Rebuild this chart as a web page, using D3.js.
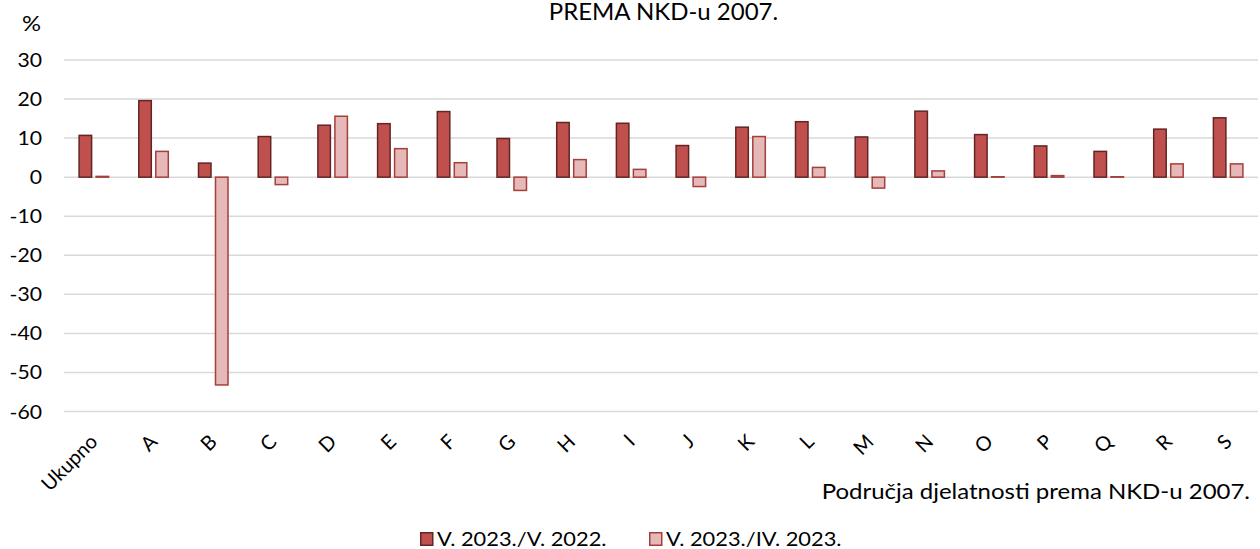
<!DOCTYPE html>
<html>
<head>
<meta charset="utf-8">
<script src="https://cdn.jsdelivr.net/npm/d3@7"></script>
<style>
  html, body { margin: 0; padding: 0; background: #fff; }
  svg { display: block; font-family: Lato, "Open Sans", sans-serif; }
</style>
</head>
<body>
<svg id="chart" width="1260" height="549"></svg>
<script>
const categories = ["Ukupno","A","B","C","D","E","F","G","H","I","J","K","L","M","N","O","P","Q","R","S"];
const seriesNames = ["V. 2023./V. 2022.", "V. 2023./IV. 2023."];
const yoy = [10.7, 19.6, 3.6, 10.4, 13.3, 13.7, 16.8, 9.9, 14.0, 13.8, 8.1, 12.8, 14.2, 10.3, 16.9, 10.9, 8.0, 6.6, 12.3, 15.2];
const mom = [0.2, 6.6, -53.2, -1.9, 15.6, 7.3, 3.7, -3.4, 4.5, 2.0, -2.4, 10.4, 2.5, -2.8, 1.6, 0.1, 0.4, 0.1, 3.4, 3.4];
const yTicks = [30, 20, 10, 0, -10, -20, -30, -40, -50, -60];
const titleText = "PREMA NKD-u 2007.";
const yUnit = "%";
const xTitle = "Područja djelatnosti prema NKD-u 2007.";

const fills = ["#C0504D", "#E6B9B8"];
const strokes = ["#632523", "#A43F3C"];

const svg = d3.select("#chart");
const plotL = 64, plotR = 1258, plotT = 60, plotB = 411.5;

const x = d3.scaleBand().domain(categories).range([plotL, plotR]).padding(0);
const bw = x.bandwidth();
const xs = d3.scaleBand().domain(seriesNames).range([bw/2 - 15.5, bw/2 + 15.5]).paddingInner(0.176);
const y = d3.scaleLinear().domain([-60, 30]).range([plotB, plotT]);

// gridlines
svg.append("g").selectAll("line").data(yTicks).join("line")
  .attr("x1", plotL).attr("x2", plotR)
  .attr("y1", d => y(d)).attr("y2", d => y(d))
  .attr("stroke", "#D9D9D9").attr("stroke-width", 1.5);

// y tick labels
svg.append("g").selectAll("text").data(yTicks).join("text")
  .attr("transform", d => `translate(42,${y(d)}) scale(1.06,1)`)
  .attr("dy", "0.35em")
  .attr("text-anchor", "end").attr("font-size", 20).attr("fill", "#000")
  .text(d => d);

// % label
svg.append("text").attr("transform", "translate(41,31) scale(1.08,1)").attr("text-anchor", "end")
  .attr("font-size", 22).text(yUnit);

// title
svg.append("text").attr("x", 663.5).attr("y", 20).attr("text-anchor", "middle")
  .attr("font-size", 24).text(titleText);

// bars
const data = categories.map((c, i) => ({c, vals: [yoy[i], mom[i]]}));
const groups = svg.append("g").selectAll("g").data(data).join("g")
  .attr("transform", d => `translate(${x(d.c)},0)`);
groups.selectAll("rect").data(d => d.vals.map((v, k) => ({v, k}))).join("rect")
  .attr("x", d => xs(seriesNames[d.k]) + 0.75)
  .attr("width", xs.bandwidth() - 1.5)
  .attr("y", d => Math.min(y(d.v), y(0)))
  .attr("height", d => Math.abs(y(d.v) - y(0)))
  .attr("fill", d => fills[d.k])
  .attr("stroke", d => strokes[d.k])
  .attr("stroke-width", 1.5);

// x labels
svg.append("g").selectAll("text").data(categories).join("text")
  .attr("transform", d => `translate(${x(d) + bw/2 + 5},443) rotate(-45)`)
  .attr("text-anchor", "end").attr("font-size", 20).text(d => d);

// x axis title
svg.append("text").attr("transform", "translate(1250,499) scale(1.09,1)").attr("text-anchor", "end")
  .attr("font-size", 22).text(xTitle);

// legend
const legX = [420, 649];
const leg = svg.append("g").selectAll("g").data(seriesNames).join("g")
  .attr("transform", (d, i) => `translate(${legX[i]},532)`);
leg.append("rect").attr("x", 0.75).attr("y", 0.75).attr("width", 12).attr("height", 12.5)
  .attr("fill", (d, i) => fills[i]).attr("stroke", (d, i) => strokes[i]).attr("stroke-width", 1.5);
leg.append("text").attr("transform", "translate(17,14) scale(1.15,1)").attr("font-size", 19).text(d => d);
</script>
</body>
</html>
